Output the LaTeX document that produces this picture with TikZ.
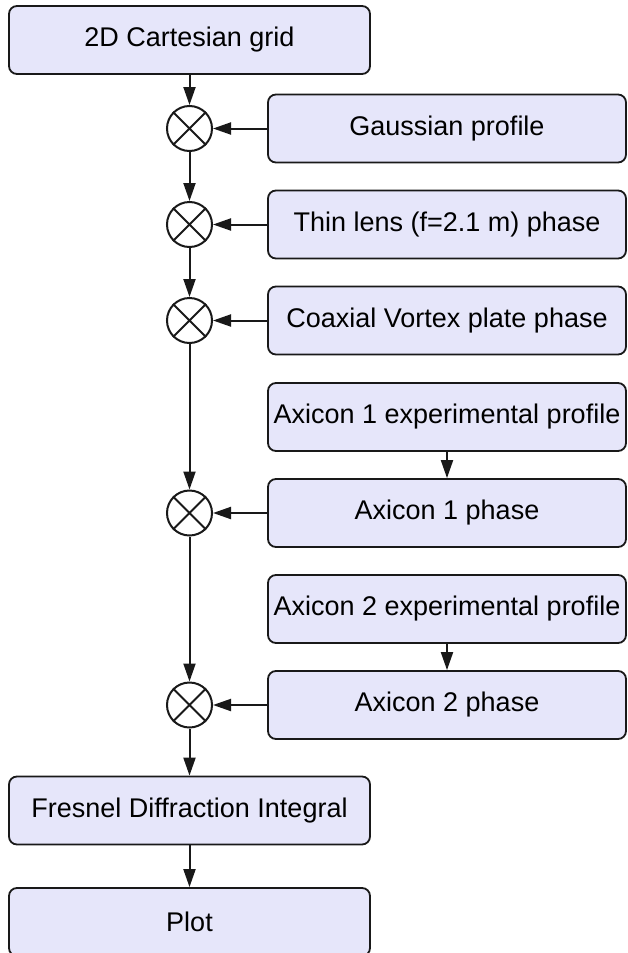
\documentclass[tikz,border=0pt]{standalone}
\usepackage{fontspec}
\setmainfont{Liberation Sans}
\usetikzlibrary{arrows.meta}
\definecolor{boxfill}{RGB}{230,230,250}
\definecolor{edge}{RGB}{25,25,25}

\begin{document}
\begin{tikzpicture}[x=1bp,y=-1bp,
  box/.style={draw=edge, line width=1.8bp, fill=boxfill, rounded corners=8bp,
    minimum height=68bp, inner sep=0pt, font=\fontsize{27bp}{32bp}\selectfont},
  mainbox/.style={box, minimum width=361bp},
  sidebox/.style={box, minimum width=358bp},
  mult/.style={circle, draw=edge, line width=2bp, minimum size=45bp, inner sep=0pt},
  flow/.style={draw=edge, line width=2bp, -{Triangle[length=18bp,width=12bp]}}
]
\useasboundingbox (0,0) rectangle (628,953);

% main chain
\node[mainbox] (grid) at (189.5,40) {2D Cartesian grid};
\node[mainbox] (fresnel) at (189.5,810.5) {Fresnel Diffraction Integral};
\node[mainbox] (plot) at (189.5,922) {Plot};

% inputs on the right
\node[sidebox] (gauss) at (447,128.5) {Gaussian profile};
\node[sidebox] (lens)  at (447,224.5) {Thin lens (f=2.1 m) phase};
\node[sidebox] (vortex) at (447,320.5) {Coaxial Vortex plate phase};
\node[sidebox] (exp1) at (447,417) {Axicon 1 experimental profile};
\node[sidebox] (ax1) at (447,513) {Axicon 1 phase};
\node[sidebox] (exp2) at (447,609) {Axicon 2 experimental profile};
\node[sidebox] (ax2) at (447,705) {Axicon 2 phase};

% multiplication junctions
\node[mult] (m1) at (189.5,128.5) {};
\node[mult] (m2) at (189.5,224.5) {};
\node[mult] (m3) at (189.5,320.5) {};
\node[mult] (m4) at (189.5,513) {};
\node[mult] (m5) at (189.5,705) {};
\foreach \m in {m1,m2,m3,m4,m5}
  \draw[edge, line width=2bp] (\m.north east) -- (\m.south west)
                              (\m.north west) -- (\m.south east);

% connectors
\draw[flow] (grid) -- (m1);
\draw[flow] (m1) -- (m2);
\draw[flow] (m2) -- (m3);
\draw[flow] (m3) -- (m4);
\draw[flow] (m4) -- (m5);
\draw[flow] (m5) -- (fresnel);
\draw[flow] (fresnel) -- (plot);

\draw[flow] (gauss) -- (m1);
\draw[flow] (lens) -- (m2);
\draw[flow] (vortex) -- (m3);
\draw[flow] (ax1) -- (m4);
\draw[flow] (ax2) -- (m5);
\draw[flow] (exp1) -- (ax1);
\draw[flow] (exp2) -- (ax2);
\end{tikzpicture}
\end{document}
